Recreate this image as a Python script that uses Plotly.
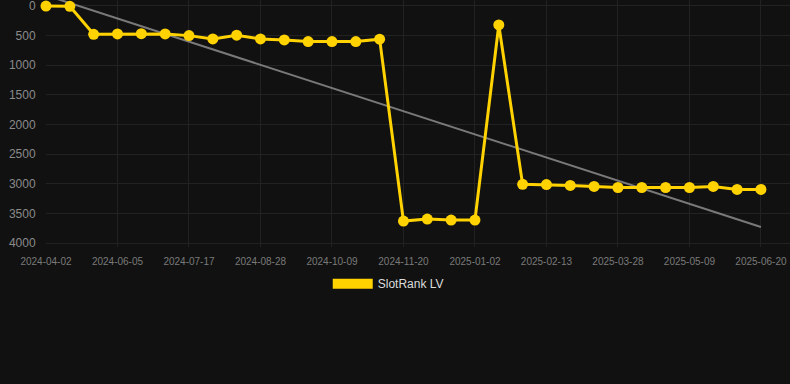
import plotly.graph_objects as go

dates = [
    "2024-04-02", "2024-04-23", "2024-05-14", "2024-06-05", "2024-06-19", "2024-07-03",
    "2024-07-17", "2024-07-31", "2024-08-14", "2024-08-28", "2024-09-11", "2024-09-25",
    "2024-10-09", "2024-10-23", "2024-11-06", "2024-11-20", "2024-12-04", "2024-12-18",
    "2025-01-02", "2025-01-16", "2025-01-30", "2025-02-13", "2025-02-27", "2025-03-13",
    "2025-03-28", "2025-04-11", "2025-04-25", "2025-05-09", "2025-05-23", "2025-06-06",
    "2025-06-20",
]
ranks = [
    2, 5, 478, 472, 468, 472, 500, 555, 493, 555, 572, 600, 600, 600, 560,
    3630, 3595, 3612, 3612, 320, 3010, 3013, 3028, 3045, 3063, 3063, 3063, 3063, 3045, 3095, 3095,
]
tick_labels = dates[::3]
y_ticks = [0, 500, 1000, 1500, 2000, 2500, 3000, 3500, 4000]
trend_x = [dates[0], dates[-1]]
trend_y = [-180, 3730]

YELLOW = "#FFD200"

fig = go.Figure()
fig.add_trace(go.Scatter(
    x=trend_x, y=trend_y, mode="lines",
    line=dict(color="rgba(140,140,140,0.85)", width=2),
    showlegend=False, hoverinfo="skip",
))
fig.add_trace(go.Scatter(
    x=dates, y=ranks, mode="lines+markers",
    line=dict(color=YELLOW, width=3),
    marker=dict(color=YELLOW, size=11),
    showlegend=False, name="SlotRank LV", cliponaxis=False,
))
fig.add_trace(go.Scatter(
    x=[None], y=[None], mode="lines",
    line=dict(color=YELLOW, width=11),
    name="SlotRank LV", showlegend=True,
))

fig.update_layout(
    width=790, height=384,
    paper_bgcolor="#111111", plot_bgcolor="#111111",
    margin=dict(l=46, r=0, t=0, b=137),
    font=dict(family="Liberation Sans, Arial, sans-serif", color="#888888"),
    xaxis=dict(
        type="category", categoryorder="array", categoryarray=dates,
        range=[0, 31.22],
        tickmode="array", tickvals=tick_labels, ticktext=tick_labels,
        tickfont=dict(size=10, color="#7a7a7a"),
        showgrid=True, gridcolor="#222222", gridwidth=1,
        zeroline=False, showline=False,
        ticks="outside", ticklen=5, tickcolor="rgba(0,0,0,0)",
    ),
    yaxis=dict(
        range=[4067, -101],
        tickmode="array", tickvals=y_ticks,
        tickfont=dict(size=12, color="#8a8a8a"),
        showgrid=True, gridcolor="#222222", gridwidth=1,
        zeroline=False, showline=False,
        ticks="outside", ticklen=7, tickcolor="rgba(0,0,0,0)",
        ticklabeloverflow="allow",
    ),
    showlegend=True,
    legend=dict(
        orientation="h", x=0.46, xanchor="center", y=-0.09, yanchor="top",
        itemwidth=40, font=dict(size=12, color="#dddddd"),
        bgcolor="rgba(0,0,0,0)",
    ),
)

fig.write_html(
    "out.html",
    config={"displayModeBar": False},
    post_script="document.body.style.margin='0';document.body.style.background='#111111';",
)
